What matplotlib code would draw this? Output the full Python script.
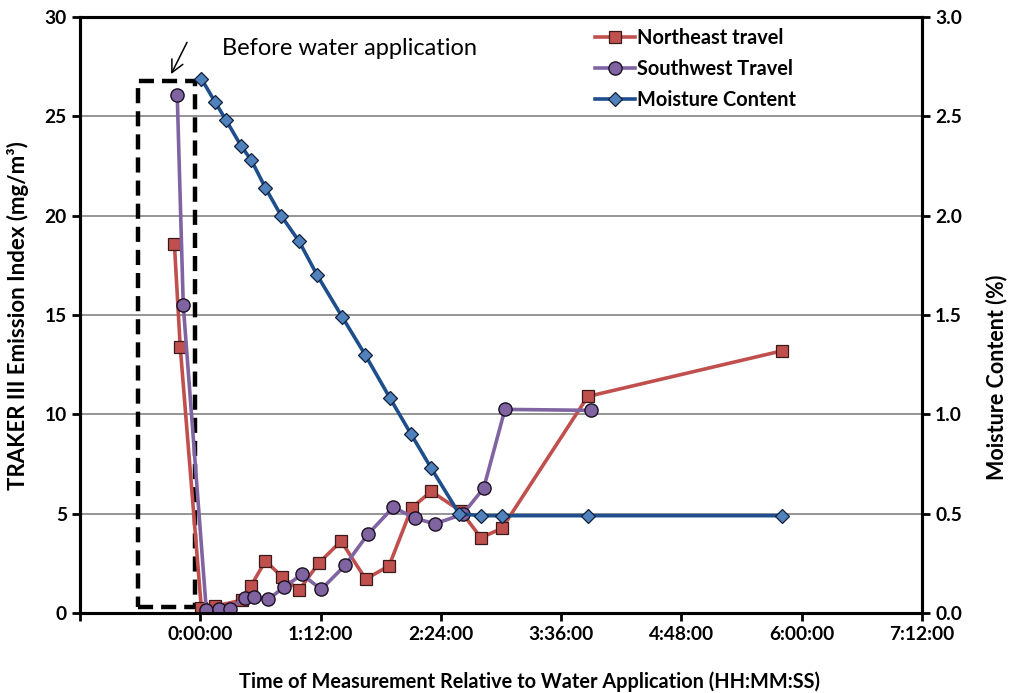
import matplotlib
matplotlib.use("Agg")
import matplotlib.pyplot as plt
from matplotlib.ticker import FuncFormatter, MultipleLocator

plt.rcParams['font.family'] = ['Lato', 'DejaVu Sans']

# time in minutes relative to water application
ne_time = [-15.5, -12, 0.6, 9, 25, 30.3, 39, 48.9, 59.2, 70.8, 84.3, 99, 113,
           126.6, 138.3, 156, 168, 180.6, 232, 348]
ne_index = [18.57, 13.39, 0.27, 0.35, 0.65, 1.36, 2.62, 1.83, 1.16, 2.50, 3.62,
            1.71, 2.37, 5.30, 6.12, 5.13, 3.79, 4.26, 10.9, 13.19]

sw_time = [-13.8, -10.2, 3.6, 11.5, 17.5, 26.5, 31.9, 40.8, 50.4, 60.8, 72.4,
           86.7, 100.3, 115.6, 128.4, 140.4, 157.1, 169.7, 182.4, 234.2]
sw_index = [26.07, 15.50, 0.15, 0.20, 0.20, 0.77, 0.82, 0.70, 1.31, 1.95, 1.19,
            2.40, 3.96, 5.33, 4.77, 4.49, 4.97, 6.29, 10.25, 10.20]

mc_time = [0.6, 9, 15.5, 24.5, 30.5, 39, 48.4, 59.2, 70, 85, 98.7, 113.7,
           126.2, 138.2, 155, 168, 180.6, 232, 348]
mc_pct = [2.69, 2.57, 2.48, 2.35, 2.28, 2.14, 2.00, 1.87, 1.70, 1.49, 1.30, 1.08,
          0.90, 0.73, 0.50, 0.49, 0.49, 0.49, 0.49]

# before-application window (minutes, emission index)
box_x = [-37, -3]
box_y = [0.3, 26.8]


def hms(v, pos):
    if v < 0:
        return ''
    m = int(round(v))
    return f"{m // 60}:{m % 60:02d}:00"


fig = plt.figure(figsize=(10.13, 6.93), dpi=100)
ax = fig.add_axes([0.079, 0.1154, 0.831, 0.8601])
ax2 = ax.twinx()

ax.plot(ne_time, ne_index, color='#C0504D', lw=2.6, marker='s', ms=8,
        mfc='#C0504D', mec='#3a1a1a', mew=0.9, label='Northeast travel', zorder=3)
ax.plot(sw_time, sw_index, color='#8064A2', lw=2.6, marker='o', ms=9.5,
        mfc='#8064A2', mec='#1a1020', mew=1.0, label='Southwest Travel', zorder=3)
ax2.plot(mc_time, mc_pct, color='#1F4E8C', lw=2.6, marker='D', ms=7.5,
         mfc='#4F81BD', mec='#10203a', mew=0.9, label='Moisture Content', zorder=3)

ax.plot([box_x[0], box_x[1], box_x[1], box_x[0], box_x[0]],
        [box_y[0], box_y[0], box_y[1], box_y[1], box_y[0]],
        color='black', lw=3.2, ls=(0, (3.4, 1.8)), zorder=2)

ax.annotate('', xy=(-18.2, 27.0), xytext=(-7.2, 28.85),
            arrowprops=dict(arrowstyle='->', color='black', lw=1.1,
                            mutation_scale=22))
ax.text(13, 28.4, 'Before water application', fontsize=17, va='center')

ax.set_xlim(-72, 432)
ax.xaxis.set_major_locator(MultipleLocator(72))
ax.xaxis.set_major_formatter(FuncFormatter(hms))
ax.set_ylim(0, 30)
ax.yaxis.set_major_locator(MultipleLocator(5))
ax2.set_ylim(0, 3.0)
ax2.yaxis.set_major_locator(MultipleLocator(0.5))
ax2.yaxis.set_major_formatter(FuncFormatter(lambda v, p: f"{v:.1f}"))

for y in range(5, 30, 5):
    ax.axhline(y, color='#8C8C8C', lw=1.3, zorder=1)

for a in (ax, ax2):
    for s in a.spines.values():
        s.set_linewidth(2.2)
        s.set_color('black')
    a.tick_params(direction='out', width=2.0, length=6, labelsize=13.8)
    for lab in a.get_xticklabels() + a.get_yticklabels():
        lab.set_fontweight('bold')

# axis titles placed in figure coordinates
fig.text(0.523, 0.017,
         'Time of Measurement Relative to Water Application (HH:MM:SS)',
         fontsize=14.3, fontweight='bold', ha='center', va='center')
fig.text(0.018, 0.544, 'TRAKER III Emission Index (mg/m³)', fontsize=16,
         fontweight='bold', rotation=90, ha='center', va='center')
fig.text(0.984, 0.455, 'Moisture Content (%)', fontsize=15.5,
         fontweight='bold', rotation=90, ha='center', va='center')

h1, l1 = ax.get_legend_handles_labels()
h2, l2 = ax2.get_legend_handles_labels()
ax2.legend(h1 + h2, l1 + l2, loc='upper left', bbox_to_anchor=(0.59, 1.012),
           frameon=False, prop={'weight': 'bold', 'size': 14.4},
           handlelength=2.0, handletextpad=0.1, labelspacing=0.55)

fig.savefig('out.png', dpi=100)
